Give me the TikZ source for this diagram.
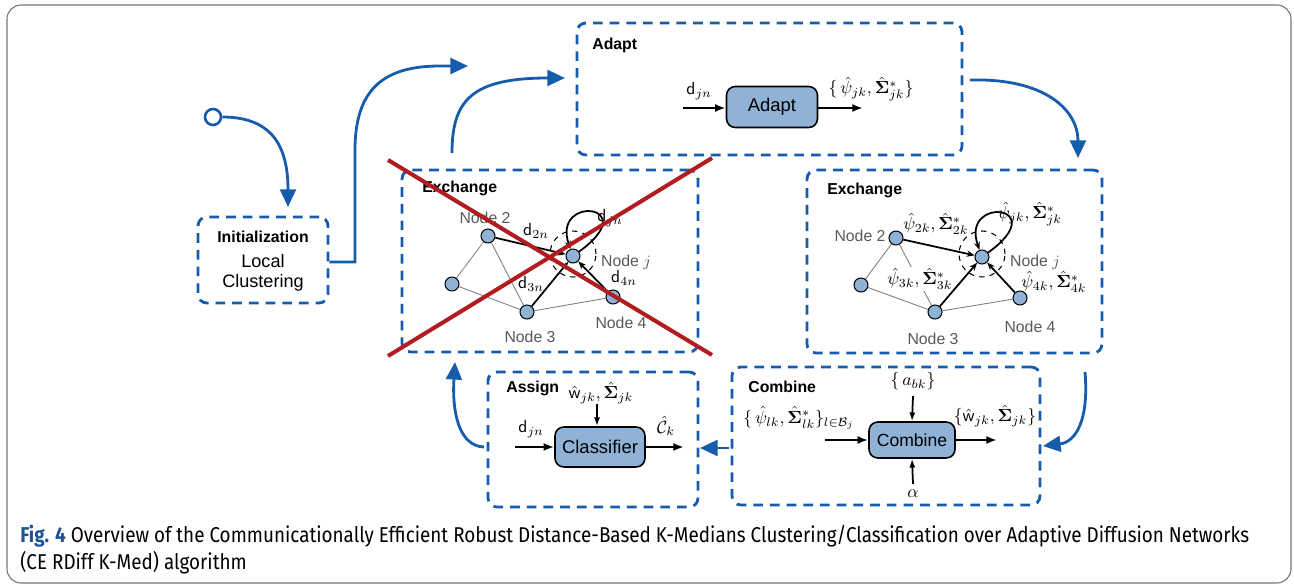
\documentclass[tikz,border=0pt]{standalone}
\usepackage{amsmath,amssymb,bm}
\usepackage[no-math]{fontspec}
\setmainfont{Liberation Sans}
\newfontfamily\capfont[FakeStretch=0.88]{Fira Sans}
\usetikzlibrary{arrows.meta}
\definecolor{flow}{RGB}{22,92,172}
\definecolor{blkc}{RGB}{143,178,214}
\definecolor{xred}{RGB}{176,28,32}
\definecolor{figblue}{RGB}{30,80,150}
\begin{document}
\begin{tikzpicture}[x=0.02cm,y=-0.02cm,
  dbox/.style={draw=flow,line width=1.6pt,dash pattern=on 5.5pt off 4pt,rounded corners=5pt,inner sep=0pt},
  blkbox/.style={draw=black,line width=0.9pt,fill=blkc,rounded corners=5pt,inner sep=0pt},
  ttl/.style={font=\bfseries\fontsize{9}{11}\selectfont,anchor=west,inner sep=0pt},
  flowarr/.style={draw=flow,line width=1.6pt,-{Triangle[length=10pt,width=9pt]}},
  barr/.style={line width=1.5pt,-{Latex[length=6pt,width=4.5pt]}},
  varr/.style={line width=1pt,-{Latex[length=5pt,width=3.5pt]}},
  gnode/.style={circle,draw=black,line width=0.6pt,fill=blkc,minimum size=0.28cm,inner sep=0pt},
  glab/.style={text=black!65,font=\fontsize{9}{11}\selectfont,inner sep=0pt},
  gline/.style={draw=black!50,line width=0.5pt},
  garr/.style={line width=1pt,-{Stealth[length=4.5pt,width=3.5pt]}},
  dcirc/.style={circle,draw=black,dashed,line width=0.6pt,minimum size=0.92cm,inner sep=0pt},
  ml/.style={font=\fontsize{10}{12}\selectfont,inner sep=0.5pt},
  xline/.style={draw=xred,line width=2.3pt}
]
\useasboundingbox (0,0) rectangle (1294,587);
\draw[black!55,line width=0.6pt,rounded corners=8pt] (7,5) rectangle (1291,583);

% ---------- boxes ----------
\node[dbox,minimum width=7.7cm,minimum height=2.64cm] (adaptbox) at (769.5,89) {};
\node[dbox,minimum width=5.92cm,minimum height=3.64cm] (exl) at (550,261) {};
\node[dbox,minimum width=5.9cm,minimum height=3.66cm] (exr) at (954.5,261.5) {};
\node[dbox,minimum width=2.6cm,minimum height=1.72cm] (init) at (263,260) {};
\node[dbox,minimum width=6.16cm,minimum height=2.76cm] (combbox) at (886,436) {};
\node[dbox,minimum width=4.2cm,minimum height=2.7cm] (assignbox) at (593,439.5) {};

\node[ttl] (tadapt) at (592,45) {Adapt};
\node[ttl] (texl) at (422,188) {Exchange};
\node[ttl] (texr) at (827,190) {Exchange};
\node[ttl] (tcomb) at (748,387) {Combine};
\node[ttl] (tassign) at (506,388) {Assign};

% ---------- initialization ----------
\node[font=\bfseries\fontsize{9}{11}\selectfont,inner sep=0pt] (tinit) at (263,237) {Initialization};
\node[font=\fontsize{10.3}{12.5}\selectfont,align=center,inner sep=0pt] (tlocal) at (263,273) {Local\\[-1pt]Clustering};

\node[circle,draw=flow,line width=1.5pt,fill=white,minimum size=0.32cm,inner sep=0pt] (start) at (213,117) {};
\coordinate (initin) at (288,207);
\draw[flowarr] (start) .. controls (275,117) and (288,150) .. (initin);

% ---------- flow arrows ----------
\coordinate (c1) at (355,262);
\coordinate (c1b) at (355,150);
\coordinate (c1e) at (468,66);
\draw[flowarr] (init.east |- c1) -- (c1) -- (c1b) .. controls (355,88) and (385,66) .. (440,66) -- (c1e);

\coordinate (c2s) at (452,153);
\coordinate (c2e) at (565,78);
\draw[flowarr] (c2s) .. controls (452,100) and (472,78) .. (c2e);

\coordinate (c3s) at (970,80);
\coordinate (c3e) at (1078,158);
\draw[flowarr] (c3s) .. controls (1045,78) and (1078,110) .. (c3e);

\coordinate (c4s) at (1085,372);
\coordinate (c4e) at (1043,446);
\draw[flowarr] (c4s) .. controls (1089,420) and (1076,442) .. (c4e);

\coordinate (c5s) at (729,448);
\coordinate (c5e) at (700,448);
\draw[flowarr] (c5s) -- (c5e);

\coordinate (c6s) at (484,447);
\coordinate (c6e) at (455,362);
\draw[flowarr] (c6s) .. controls (458,446) and (452,410) .. (c6e);

% ---------- adapt ----------
\node[blkbox,minimum width=1.82cm,minimum height=0.82cm,font=\fontsize{10.5}{12}\selectfont] (adapt) at (772,107) {Adapt};
\coordinate (ain) at (683,108);
\coordinate (aout) at (863,108);
\draw[barr] (ain) -- (adapt.west |- ain);
\draw[barr] (adapt.east |- aout) -- (aout);
\node[ml] (ladin) at (699,91) {$\mathsf{d}_{jn}$};
\node[ml] (ladout) at (871,89) {$\{\,\hat{\psi}_{jk},\hat{\bm{\Sigma}}^{*}_{jk}\}$};

% ---------- assign ----------
\node[blkbox,minimum width=1.8cm,minimum height=0.8cm,font=\fontsize{10.5}{12}\selectfont] (cls) at (600,447) {Classifier};
\coordinate (clin) at (515,447);
\coordinate (clout) at (684,447);
\coordinate (cltop) at (597,404);
\draw[barr] (clin) -- (cls.west);
\draw[barr] (cls.east) -- (clout);
\draw[varr] (cltop) -- (cls.north -| cltop);
\node[ml] (lclin) at (531,429) {$\mathsf{d}_{jn}$};
\node[ml] (lcltop) at (601,393) {$\hat{\mathsf{w}}_{jk},\hat{\bm{\Sigma}}_{jk}$};
\node[ml] (lclout) at (666,426) {$\hat{\mathcal{C}}_{k}$};

% ---------- combine ----------
\node[blkbox,minimum width=1.72cm,minimum height=0.72cm,font=\fontsize{10}{12}\selectfont] (comb) at (912,440) {Combine};
\coordinate (cbin) at (825,440);
\coordinate (cbout) at (997,440);
\coordinate (cbtop) at (913,396);
\coordinate (cbbot) at (913,484);
\draw[barr] (cbin) -- (comb.west);
\draw[barr] (comb.east) -- (cbout);
\draw[varr] (cbtop) -- (comb.north);
\draw[varr] (cbbot) -- (comb.south);
\node[ml] (lcbin) at (799,418) {$\{\,\hat{\psi}_{lk},\hat{\bm{\Sigma}}^{*}_{lk}\}_{l\in\mathcal{B}_j}$};
\node[ml] (lcbout) at (995,416) {$\{\hat{\mathsf{w}}_{jk},\hat{\bm{\Sigma}}_{jk}\}$};
\node[ml] (lcbtop) at (913,381) {$\{\,a_{bk}\}$};
\node[ml] (lcbbot) at (913,494) {$\alpha$};

% ---------- left exchange graph ----------
\node[gnode] (l2) at (488,236) {};
\node[gnode] (l1) at (452,284) {};
\node[gnode] (l3) at (527,312) {};
\node[gnode] (l4) at (613,297) {};
\node[gnode] (lj) at (573,256) {};
\node[dcirc] (ljc) at (573,254) {};
\draw[gline] (l2) -- (l1);
\draw[gline] (l2) -- (l3);
\draw[gline] (l1) -- (l3);
\draw[gline] (l3) -- (l4);
\draw[garr] (l2) -- (lj);
\draw[garr] (l3) -- (lj);
\draw[garr] (l4) -- (lj);
\draw[garr] (lj) .. controls +(72,-52) and +(-22,-62) .. (lj);
\node[glab] (ln2) at (485,218) {Node 2};
\node[glab] (ln3) at (530,337) {Node 3};
\node[glab] (ln4) at (621,323) {Node 4};
\node[glab] (lnj) at (626,262) {Node $j$};
\node[ml] (ld2) at (536,231) {$\mathsf{d}_{2n}$};
\node[ml] (ldj) at (610,218) {$\mathsf{d}_{jn}$};
\node[ml] (ld3) at (531,284) {$\mathsf{d}_{3n}$};
\node[ml] (ld4) at (624,278) {$\mathsf{d}_{4n}$};

% ---------- right exchange graph ----------
\node[gnode] (r2) at (896,238) {};
\node[gnode] (r1) at (861,285) {};
\node[gnode] (r3) at (935,312) {};
\node[gnode] (r4) at (1020,298) {};
\node[gnode] (rj) at (982,257) {};
\node[dcirc] (rjc) at (982,254) {};
\draw[gline] (r2) -- (r1);
\draw[gline] (r2) -- (r3);
\draw[gline] (r1) -- (r3);
\draw[gline] (r3) -- (r4);
\node[ml,fill=white,inner sep=0.5pt] (rp3) at (920,279) {$\hat{\psi}_{3k},\hat{\bm{\Sigma}}^{*}_{3k}$};
\draw[garr] (r2) -- (rj);
\draw[garr] (r3) -- (rj);
\draw[garr] (r4) -- (rj);
\draw[garr] (rj) .. controls +(72,-52) and +(-22,-62) .. (rj);
\node[glab] (rn2) at (860,236) {Node 2};
\node[glab] (rn3) at (933,339) {Node 3};
\node[glab] (rn4) at (1030,327) {Node 4};
\node[glab] (rnj) at (1035,262) {Node $j$};
\node[ml] (rp2) at (936,224) {$\hat{\psi}_{2k},\hat{\bm{\Sigma}}^{*}_{2k}$};
\node[ml] (rpj) at (1030,214) {$\hat{\psi}_{jk},\hat{\bm{\Sigma}}^{*}_{jk}$};
\node[ml] (rp4) at (1054,282) {$\hat{\psi}_{4k},\hat{\bm{\Sigma}}^{*}_{4k}$};

% ---------- red cross ----------
\coordinate (x1a) at (388,160);
\coordinate (x1b) at (712,355);
\coordinate (x2a) at (712,158);
\coordinate (x2b) at (388,356);
\draw[xline] (x1a) -- (x1b);
\draw[xline] (x2a) -- (x2b);

% ---------- caption ----------
\node[anchor=west,inner sep=0pt,font=\capfont\fontsize{12.2}{14}\selectfont] (cap1) at (20,536) {\textbf{\textcolor{figblue}{Fig. 4}} Overview of the Communicationally Efficient Robust Distance-Based K-Medians Clustering/Classification over Adaptive Diffusion Networks};
\node[anchor=west,inner sep=0pt,font=\capfont\fontsize{12.2}{14}\selectfont] (cap2) at (20,563) {(CE RDiff K-Med) algorithm};
\end{tikzpicture}
\end{document}
